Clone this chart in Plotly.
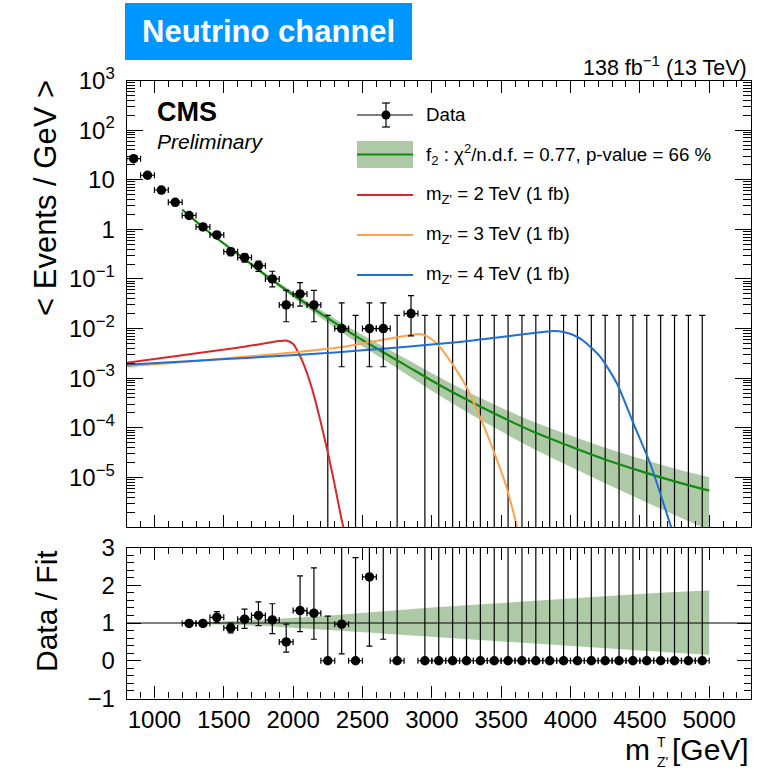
import plotly.graph_objects as go

# ---------------- data ----------------
bin_centers = [850, 950, 1050, 1150, 1250, 1350, 1450, 1550, 1650, 1750, 1850, 1950, 2050, 2150,
               2250, 2350, 2450, 2550, 2650, 2750, 2850, 2950, 3050, 3150, 3250, 3350, 3450, 3550,
               3650, 3750, 3850, 3950, 4050, 4150, 4250, 4350, 4450, 4550, 4650, 4750, 4850, 4950]
data_vals = [26.5, 12.3, 6.2, 3.5, 1.9, 1.12, 0.77, 0.355, 0.27, 0.185, 0.10, 0.03, 0.05, 0.03,
             0, 0.01, 0, 0.01, 0.01, 0, 0.02, 0, 0, 0, 0, 0, 0, 0,
             0, 0, 0, 0, 0, 0, 0, 0, 0, 0, 0, 0, 0, 0]
data_err_up = [0.51, 0.35, 0.25, 0.19, 0.14, 0.11, 0.09, 0.06, 0.052, 0.043, 0.043, 0.029, 0.034, 0.029,
               0.0184, 0.023, 0.0184, 0.023, 0.023, 0.0184, 0.026, 0.0184, 0.0184, 0.0184, 0.0184, 0.0184, 0.0184, 0.0184,
               0.0184, 0.0184, 0.0184, 0.0184, 0.0184, 0.0184, 0.0184, 0.0184, 0.0184, 0.0184, 0.0184, 0.0184, 0.0184, 0.0184]
data_err_dn = [0.51, 0.35, 0.25, 0.19, 0.14, 0.11, 0.09, 0.06, 0.052, 0.043, 0.031, 0.0163, 0.0216, 0.0163,
               0, 0.0083, 0, 0.0083, 0.0083, 0, 0.0129, 0, 0, 0, 0, 0, 0, 0,
               0, 0, 0, 0, 0, 0, 0, 0, 0, 0, 0, 0, 0, 0]

fit_x = [1200, 1400, 1600, 1800, 2000, 2200, 2400, 2600, 2800, 3000, 3250, 3500, 3750, 4000, 4250, 4500, 4750, 5000]
fit_y = [2.5, 0.85, 0.32, 0.12, 0.048, 0.02, 0.0087, 0.004, 0.0019, 8.9e-4, 3.7e-4, 1.66e-4, 7.9e-5,
         4.2e-5, 2.3e-5, 1.35e-5, 8.3e-6, 5.4e-6]
band_rel_hi = [1.02, 1.03, 1.05, 1.09, 1.13, 1.18, 1.24, 1.30, 1.36, 1.41, 1.47, 1.53, 1.60, 1.66, 1.72, 1.77, 1.82, 1.86]
band_rel_lo = [0.98, 0.97, 0.95, 0.92, 0.88, 0.83, 0.78, 0.73, 0.68, 0.63, 0.57, 0.51, 0.45, 0.39, 0.33, 0.27, 0.21, 0.16]

sig2_x = [800, 1200, 1600, 1900, 1950, 2000, 2050, 2100, 2150, 2200, 2250, 2300, 2350, 2380]
sig2_y = [2.05e-3, 2.9e-3, 4.1e-3, 5.6e-3, 5.75e-3, 4.9e-3, 2.8e-3, 1.26e-3, 4.5e-4, 1.26e-4, 3.2e-5, 7e-6, 1.4e-6, 6.3e-7]
sig3_x = [800, 1200, 1600, 2000, 2400, 2700, 2850, 2900, 2960, 3035, 3130, 3250, 3350, 3450, 3540, 3620]
sig3_y = [1.74e-3, 2.09e-3, 2.63e-3, 3.31e-3, 4.47e-3, 6.3e-3, 7.4e-3, 7.76e-3, 7.1e-3, 5.0e-3, 2.29e-3,
          6.6e-4, 1.58e-4, 3.16e-5, 6.2e-6, 8.9e-7]
sig4_x = [800, 1300, 1800, 2300, 2800, 3200, 3500, 3800, 3880, 3950, 4020, 4090, 4215, 4335, 4455, 4576, 4696, 4760]
sig4_y = [1.86e-3, 2.24e-3, 2.69e-3, 3.31e-3, 4.27e-3, 5.37e-3, 6.76e-3, 8.5e-3, 8.9e-3, 8.5e-3, 7.4e-3,
          5.75e-3, 2.69e-3, 7.8e-4, 1.2e-4, 1.86e-5, 1.8e-6, 5e-7]

ratio_x = [1250, 1350, 1450, 1550, 1650, 1750, 1850, 1950, 2050, 2150, 2250, 2350, 2450, 2550, 2650, 2750,
           2850, 2950, 3050, 3150, 3250, 3350, 3450, 3550, 3650, 3750, 3850, 3950, 4050, 4150, 4250, 4350,
           4450, 4550, 4650, 4750, 4850, 4950]
ratio_vals = [0.99, 0.99, 1.15, 0.87, 1.10, 1.20, 1.08, 0.50, 1.33, 1.26, 0, 0.97, 0, 2.22, 3.3, 0,
              9.0, 0, 0, 0, 0, 0, 0, 0, 0, 0, 0, 0, 0, 0, 0, 0,
              0, 0, 0, 0, 0, 0]
ratio_err_up = [0.03, 0.05, 0.15, 0.13, 0.27, 0.36, 0.43, 0.47, 0.92, 1.20, 1.18, 2.3, 2.73, 5.1, 7.6, 8.0,
                12.0, 17.0, 24.0, 35.0, 50.0, 60.0, 80.0, 100.0, 120.0, 140.0, 170.0, 200.0, 240.0, 280.0, 320.0, 360.0,
                400.0, 450.0, 500.0, 560.0, 620.0, 680.0]
ratio_err_dn = [0.03, 0.05, 0.14, 0.13, 0.24, 0.27, 0.36, 0.27, 0.56, 0.69, 0, 0.79, 0, 1.83, 2.73, 0,
                6.0, 0, 0, 0, 0, 0, 0, 0, 0, 0, 0, 0, 0, 0, 0, 0,
                0, 0, 0, 0, 0, 0]

ytick_vals = [1e-5, 1e-4, 1e-3, 1e-2, 1e-1, 1, 10, 100, 1000]
ytick_text = ["10<sup>−5</sup>", "10<sup>−4</sup>", "10<sup>−3</sup>", "10<sup>−2</sup>", "10<sup>−1</sup>",
              "1", "10", "10<sup>2</sup>", "10<sup>3</sup>"]
rtick_vals = [-1, 0, 1, 2, 3]
rtick_text = ["−1", "0", "1", "2", "3"]

# ---------------- styling ----------------
FONT = "Liberation Sans, Arial, Helvetica, sans-serif"
W, H = 767, 779
GREEN = "#118a11"
BAND = "#adc9a5"
RED = "#d9282a"
ORANGE = "#ffa24a"
BLUE = "#1f6fd8"


def px(x):
    return x / W


def py(y):
    return 1 - y / H


fig = go.Figure()

# fit band + line (main)
band_hi = [f * r for f, r in zip(fit_y, band_rel_hi)]
band_lo = [f * r for f, r in zip(fit_y, band_rel_lo)]
fig.add_trace(go.Scatter(x=fit_x, y=band_lo, mode="lines", line=dict(width=0, shape="spline"),
                         hoverinfo="skip", xaxis="x", yaxis="y"))
fig.add_trace(go.Scatter(x=fit_x, y=band_hi, mode="lines", line=dict(width=0, shape="spline"),
                         fill="tonexty", fillcolor=BAND, hoverinfo="skip", xaxis="x", yaxis="y"))

# data error bars for zero bins (main)
zx = [x for x, v in zip(bin_centers, data_vals) if v == 0]
zup = [u for u, v in zip(data_err_up, data_vals) if v == 0]
fig.add_trace(go.Scatter(x=zx, y=zup, mode="markers", marker=dict(size=1, opacity=0),
                         error_y=dict(type="data", symmetric=False, array=[0] * len(zx),
                                      arrayminus=[u * 0.99999 for u in zup], color="black", thickness=1.2, width=3),
                         xaxis="x", yaxis="y"))

fig.add_trace(go.Scatter(x=fit_x, y=fit_y, mode="lines", line=dict(color=GREEN, width=2.2, shape="spline"),
                         xaxis="x", yaxis="y"))

for sx, sy, col in [(sig2_x, sig2_y, RED), (sig3_x, sig3_y, ORANGE), (sig4_x, sig4_y, BLUE)]:
    fig.add_trace(go.Scatter(x=sx, y=sy, mode="lines", line=dict(color=col, width=2, shape="spline", smoothing=0.6),
                             xaxis="x", yaxis="y"))

# data points (non-zero)
nx = [x for x, v in zip(bin_centers, data_vals) if v > 0]
ny = [v for v in data_vals if v > 0]
nup = [u for u, v in zip(data_err_up, data_vals) if v > 0]
ndn = [d for d, v in zip(data_err_dn, data_vals) if v > 0]
fig.add_trace(go.Scatter(x=nx, y=ny, mode="markers", marker=dict(color="black", size=9.5),
                         error_y=dict(type="data", symmetric=False, array=nup, arrayminus=ndn,
                                      color="black", thickness=1.2, width=3),
                         error_x=dict(type="constant", value=50, color="black", thickness=1.2, width=3),
                         xaxis="x", yaxis="y"))

# ---------------- ratio panel ----------------
fig.add_trace(go.Scatter(x=fit_x, y=band_rel_lo, mode="lines", line=dict(width=0),
                         hoverinfo="skip", xaxis="x2", yaxis="y2"))
fig.add_trace(go.Scatter(x=fit_x, y=band_rel_hi, mode="lines", line=dict(width=0),
                         fill="tonexty", fillcolor=BAND, hoverinfo="skip", xaxis="x2", yaxis="y2"))
fig.add_trace(go.Scatter(x=[800, 5300], y=[1, 1], mode="lines", line=dict(color="black", width=1),
                         xaxis="x2", yaxis="y2"))
fig.add_trace(go.Scatter(x=ratio_x, y=ratio_vals, mode="markers", marker=dict(color="black", size=9.5),
                         error_y=dict(type="data", symmetric=False, array=ratio_err_up, arrayminus=ratio_err_dn,
                                      color="black", thickness=1.2, width=3),
                         error_x=dict(type="constant", value=50, color="black", thickness=1.2, width=3),
                         xaxis="x2", yaxis="y2"))

# ---------------- axes ----------------
xdom = [px(126.7), px(750.8)]
common_x = dict(range=[800, 5300], domain=xdom, showline=True, linecolor="black", linewidth=1.2,
                mirror="ticks", ticks="inside", ticklen=12, tickwidth=1, tickcolor="black",
                tick0=0, dtick=500, showgrid=False, zeroline=False, automargin=False,
                minor=dict(ticks="inside", ticklen=6, dtick=100, tickcolor="black", showgrid=False))
fig.update_layout(
    xaxis=dict(common_x, anchor="y", showticklabels=False),
    yaxis=dict(type="log", range=[-6, 3], domain=[py(527), py(80.5)], anchor="x",
               showline=True, linecolor="black", linewidth=1.2, mirror="ticks", automargin=False,
               ticks="inside", ticklen=16, tickcolor="black", tickmode="array",
               tickvals=ytick_vals, ticktext=ytick_text, showgrid=False, zeroline=False,
               tickfont=dict(family=FONT, size=24, color="black"), ticklabelstandoff=6,
               minor=dict(ticks="inside", ticklen=8, dtick="D1", tickcolor="black", showgrid=False)),
    xaxis2=dict(common_x, anchor="y2", matches="x", showticklabels=True,
                tickfont=dict(family=FONT, size=24, color="black")),
    yaxis2=dict(range=[-1, 3], domain=[py(698.5), py(547.5)], anchor="x2",
                showline=True, linecolor="black", linewidth=1.2, mirror="ticks", automargin=False,
                ticks="inside", ticklen=14, tickcolor="black", tickmode="array",
                tickvals=rtick_vals, ticktext=rtick_text, showgrid=False, zeroline=False,
                tickfont=dict(family=FONT, size=24, color="black"), ticklabelstandoff=6,
                minor=dict(ticks="inside", ticklen=7, dtick=0.2, tick0=0, tickcolor="black", showgrid=False)),
    width=W, height=H, margin=dict(l=0, r=0, t=0, b=0, pad=0, autoexpand=False),
    paper_bgcolor="white", plot_bgcolor="white", showlegend=False,
    font=dict(family=FONT, color="black"),
)

shapes = []
ann = []

# title box
shapes.append(dict(type="rect", xref="paper", yref="paper", x0=px(125), x1=px(412), y0=py(60), y1=py(3),
                   fillcolor="#0096ff", line=dict(width=0), layer="above"))
ann.append(dict(text="<b>Neutrino channel</b>", x=px(268), y=py(31), xref="paper", yref="paper",
                showarrow=False, font=dict(family=FONT, size=31, color="white"), xanchor="center", yanchor="middle"))
ann.append(dict(text="138 fb<sup>−1</sup> (13 TeV)", x=px(749), y=py(66), xref="paper", yref="paper",
                showarrow=False, font=dict(family=FONT, size=21.5), xanchor="right", yanchor="middle"))
ann.append(dict(text="<b>CMS</b>", x=px(155), y=py(112), xref="paper", yref="paper",
                showarrow=False, font=dict(family=FONT, size=27), xanchor="left", yanchor="middle"))
ann.append(dict(text="<i>Preliminary</i>", x=px(155), y=py(141), xref="paper", yref="paper",
                showarrow=False, font=dict(family=FONT, size=21), xanchor="left", yanchor="middle"))

# axis titles
ann.append(dict(text="< Events / GeV >", x=px(46), y=py(198), xref="paper", yref="paper", textangle=-90,
                showarrow=False, font=dict(family=FONT, size=31), xanchor="center", yanchor="middle"))
ann.append(dict(text="Data / Fit", x=px(46), y=py(611), xref="paper", yref="paper", textangle=-90,
                showarrow=False, font=dict(family=FONT, size=30), xanchor="center", yanchor="middle"))
ann.append(dict(text="[GeV]", x=px(751), y=py(749), xref="paper", yref="paper",
                showarrow=False, font=dict(family=FONT, size=30), xanchor="right", yanchor="middle"))
ann.append(dict(text="m", x=px(652), y=py(749), xref="paper", yref="paper",
                showarrow=False, font=dict(family=FONT, size=30), xanchor="right", yanchor="middle"))
ann.append(dict(text="T", x=px(655), y=py(742), xref="paper", yref="paper",
                showarrow=False, font=dict(family=FONT, size=14), xanchor="left", yanchor="middle"))
ann.append(dict(text="Z'", x=px(655), y=py(762), xref="paper", yref="paper",
                showarrow=False, font=dict(family=FONT, size=14), xanchor="left", yanchor="middle"))

# legend
LX0, LX1 = 357, 413
shapes.append(dict(type="line", xref="paper", yref="paper", x0=px(LX0), x1=px(LX1), y0=py(115), y1=py(115),
                   line=dict(color="black", width=1.2)))
shapes.append(dict(type="line", xref="paper", yref="paper", x0=px(386), x1=px(386), y0=py(103), y1=py(127),
                   line=dict(color="black", width=1.2)))
shapes.append(dict(type="line", xref="paper", yref="paper", x0=px(382), x1=px(390), y0=py(103), y1=py(103),
                   line=dict(color="black", width=1.2)))
shapes.append(dict(type="line", xref="paper", yref="paper", x0=px(382), x1=px(390), y0=py(127), y1=py(127),
                   line=dict(color="black", width=1.2)))
shapes.append(dict(type="circle", xref="paper", yref="paper", x0=px(381.5), x1=px(390.5), y0=py(119.5), y1=py(110.5),
                   fillcolor="black", line=dict(color="black", width=0)))
shapes.append(dict(type="rect", xref="paper", yref="paper", x0=px(LX0), x1=px(LX1), y0=py(168), y1=py(141),
                   fillcolor=BAND, line=dict(width=0)))
shapes.append(dict(type="line", xref="paper", yref="paper", x0=px(LX0), x1=px(LX1), y0=py(154.5), y1=py(154.5),
                   line=dict(color=GREEN, width=2.2)))
for yy, col in [(195, RED), (235, ORANGE), (275, BLUE)]:
    shapes.append(dict(type="line", xref="paper", yref="paper", x0=px(LX0), x1=px(LX1), y0=py(yy), y1=py(yy),
                       line=dict(color=col, width=2)))

leg_texts = [
    (115, "Data"),
    (154, "f<sub>2</sub> : χ<sup>2</sup>/n.d.f. = 0.77, p-value = 66 %"),
    (195, "m<sub>Z'</sub> = 2 TeV (1 fb)"),
    (235, "m<sub>Z'</sub> = 3 TeV (1 fb)"),
    (275, "m<sub>Z'</sub> = 4 TeV (1 fb)"),
]
for yy, t in leg_texts:
    ann.append(dict(text=t, x=px(424), y=py(yy), xref="paper", yref="paper", showarrow=False,
                    font=dict(family=FONT, size=18.7), xanchor="left", yanchor="middle"))

fig.update_layout(shapes=shapes, annotations=ann)
fig.write_html("out.html", config={"displayModeBar": False},
               post_script="document.body.style.margin='0';document.body.style.overflow='hidden';")
